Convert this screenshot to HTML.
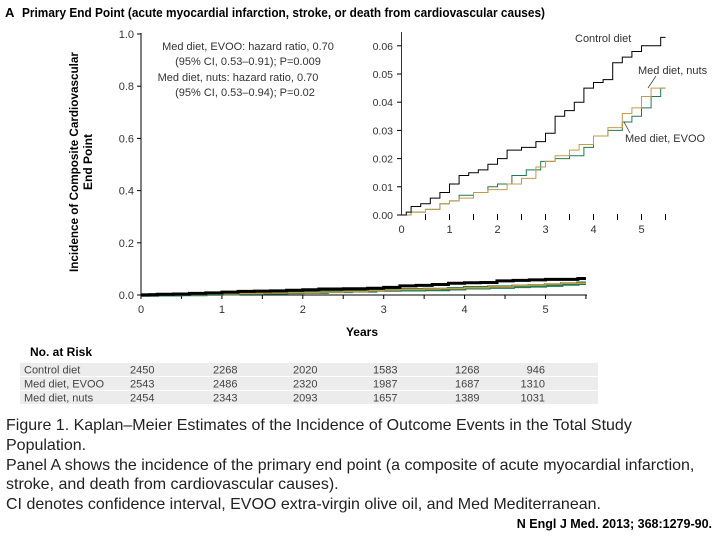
<!DOCTYPE html>
<html><head><meta charset="utf-8"><style>
body{margin:0;background:#fff;width:720px;height:540px;overflow:hidden;font-family:"Liberation Sans",sans-serif}
svg{position:absolute;left:0;top:0}
.cap{position:absolute;left:6px;top:416px;width:714px;font-size:16px;line-height:19.8px;color:#222;white-space:nowrap}
.cite{position:absolute;right:8px;top:517px;font-size:12.5px;font-weight:bold;color:#000}
</style></head><body>
<svg id="chart" width="720" height="540">
<text x="5" y="17" font-size="13" font-weight="bold">A</text>
<text x="22" y="17" font-size="12.5" font-weight="bold" textLength="523" lengthAdjust="spacingAndGlyphs">Primary End Point (acute myocardial infarction, stroke, or death from cardiovascular causes)</text>
<g transform="translate(78,162) rotate(-90)" font-size="12" font-weight="bold" text-anchor="middle">
<text x="0" y="0" textLength="220" lengthAdjust="spacingAndGlyphs">Incidence of Composite Cardiovascular</text>
<text x="0" y="14">End Point</text></g>
<g font-size="11" fill="#333" text-anchor="middle">
<text x="248" y="50">Med diet, EVOO: hazard ratio, 0.70</text>
<text x="248" y="65">(95% CI, 0.53–0.91); P=0.009</text>
<text x="238" y="81">Med diet, nuts: hazard ratio, 0.70</text>
<text x="245" y="96">(95% CI, 0.53–0.94);  P=0.02</text></g>
<text x="362" y="336" font-size="12" font-weight="bold" text-anchor="middle">Years</text>
<g id="main"></g>
<g id="inset"></g>
<g font-size="11" fill="#333">
<text x="575" y="42">Control diet</text>
<text x="638" y="74">Med diet, nuts</text>
<text x="625" y="142">Med diet, EVOO</text>
<line x1="656" y1="76" x2="648" y2="88" stroke="#333" stroke-width="0.7"/>
<line x1="630" y1="133" x2="624" y2="122" stroke="#333" stroke-width="0.7"/>
</g>
<g id="risk">
<text x="30" y="356" font-size="12" font-weight="bold">No. at Risk</text>
</g>
</svg>
<div class="cap">Figure 1. Kaplan–Meier Estimates of the Incidence of Outcome Events in the Total Study<br>Population.<br>Panel A shows the incidence of the primary end point (a composite of acute myocardial infarction,<br>stroke, and death from cardiovascular causes).<br>CI denotes confidence interval, EVOO extra-virgin olive oil, and Med Mediterranean.</div>
<div class="cite">N Engl J Med. 2013; 368:1279-90.</div>
<script>
const ctlT=[0,0.1,0.2,0.4,0.6,0.8,1.0,1.2,1.4,1.6,1.8,2.0,2.2,2.5,2.8,3.0,3.2,3.4,3.6,3.8,4.0,4.2,4.4,4.6,4.8,5.0,5.4,5.5];
const ctlV=[0,0.001,0.003,0.004,0.006,0.008,0.011,0.014,0.015,0.016,0.018,0.020,0.023,0.024,0.026,0.029,0.035,0.037,0.040,0.045,0.047,0.048,0.054,0.056,0.058,0.060,0.063,0.063];
const evooT=[0,0.2,0.5,0.8,1.0,1.2,1.5,1.8,2.0,2.3,2.6,2.9,3.2,3.5,3.8,4.0,4.3,4.6,4.8,5.0,5.2,5.4,5.5];
const evooV=[0,0.001,0.002,0.004,0.005,0.007,0.008,0.010,0.011,0.014,0.016,0.019,0.020,0.021,0.024,0.028,0.030,0.033,0.035,0.038,0.042,0.045,0.045];
const nutsT=[0,0.2,0.5,0.8,1.0,1.2,1.5,1.8,2.2,2.5,2.8,3.0,3.2,3.5,3.7,4.0,4.3,4.6,4.8,5.0,5.2,5.5];
const nutsV=[0,0.001,0.002,0.004,0.005,0.006,0.008,0.009,0.011,0.013,0.017,0.019,0.021,0.023,0.025,0.028,0.031,0.036,0.038,0.042,0.045,0.045];
const mainYTicks=["0.0","0.2","0.4","0.6","0.8","1.0"];
const insetYTicks=["0.00","0.01","0.02","0.03","0.04","0.05","0.06"];
const xTicks=["0","1","2","3","4","5"];
const riskGroups=["Control diet","Med diet, EVOO","Med diet, nuts"];
const riskControl=[2450,2268,2020,1583,1268,946];
const riskEvoo=[2543,2486,2320,1987,1687,1310];
const riskNuts=[2454,2343,2093,1657,1389,1031];

const NS="http://www.w3.org/2000/svg";
function mk(p,tag,at){const e=document.createElementNS(NS,tag);for(const k in at)e.setAttribute(k,at[k]);p.appendChild(e);return e;}
const mx=t=>141+t*80.9, my=v=>295-v*261;
const ix=t=>401.5+t*48, iy=v=>215-v*2820;
function stepPath(T,V,fx,fy){let d="M"+fx(T[0])+","+fy(V[0]);for(let i=1;i<T.length;i++){d+=" H"+fx(T[i])+" V"+fy(V[i]);}return d;}
const main=document.getElementById('main'), inset=document.getElementById('inset');
let ax=mk(main,'line',{x1:141,y1:33,x2:141,y2:295,stroke:'#000','stroke-width':1});


ax=mk(main,'line',{x1:141,y1:295,x2:587,y2:295,stroke:'#000','stroke-width':1});


mainYTicks.forEach((l,i)=>{const v=parseFloat(l),y=my(v);mk(main,'line',{x1:137,y1:y,x2:141,y2:y,stroke:'#000'});
 const t=mk(main,'text',{x:134,y:y+4,'font-size':11,'text-anchor':'end',fill:'#333'});t.textContent=l;
 
 });
for(let k=0;k<=11;k++){const x=mx(k*0.5);mk(main,'line',{x1:x,y1:295,x2:x,y2:299,stroke:'#000'});}
xTicks.forEach(l=>{const t=mk(main,'text',{x:mx(+l),y:313,'font-size':11,'text-anchor':'middle',fill:'#333'});t.textContent=l;
 
 });
[[evooT,evooV,'#1f7a50',3.5,'main-line-evoo'],[nutsT,nutsV,'#c79a45',1.5,'main-line-nuts'],[ctlT,ctlV,'#000',3,'main-line-control']].forEach(s=>{
 const p=mk(main,'path',{d:stepPath(s[0],s[1],mx,my),fill:'none',stroke:s[2],'stroke-width':s[3]});
 
 });
ax=mk(inset,'line',{x1:401.5,y1:32,x2:401.5,y2:215,stroke:'#000','stroke-width':0.8});


insetYTicks.forEach(l=>{const y=iy(parseFloat(l));mk(inset,'line',{x1:397,y1:y,x2:401.5,y2:y,stroke:'#000'});
 const t=mk(inset,'text',{x:393,y:y+4,'font-size':10.5,'text-anchor':'end',fill:'#333'});t.textContent=l;
 
 });
for(let k=1;k<=11;k++){const x=ix(k*0.5);mk(inset,'line',{x1:x,y1:214,x2:x,y2:220,stroke:'#000'});}
xTicks.forEach(l=>{const t=mk(inset,'text',{x:ix(+l),y:233,'font-size':11,'text-anchor':'middle',fill:'#333'});t.textContent=l;
 
 });
[[evooT,evooV,'#1f7a50','inset-line-evoo'],[nutsT,nutsV,'#c79a45','inset-line-nuts'],[ctlT,ctlV,'#000','inset-line-control']].forEach(s=>{
 const p=mk(inset,'path',{d:stepPath(s[0],s[1],ix,iy),fill:'none',stroke:s[2],'stroke-width':1});
 
 });
const risk=document.getElementById('risk');
const cols=[130,213,293,373,455,545];
[riskControl,riskEvoo,riskNuts].forEach((row,r)=>{const y=363+r*14;
 mk(risk,'rect',{x:20,y:y,width:578,height:13,fill:'#ececec'});
 const lab=mk(risk,'text',{x:24,y:y+10.5,'font-size':11,fill:'#444'});lab.textContent=riskGroups[r];
 
 
 row.forEach((v,i)=>{const t=mk(risk,'text',{x:cols[i],y:y+10.5,'font-size':11,fill:'#444','text-anchor':i<5?'start':'end'});t.textContent=v;
  
  });});
</script>
</body></html>
